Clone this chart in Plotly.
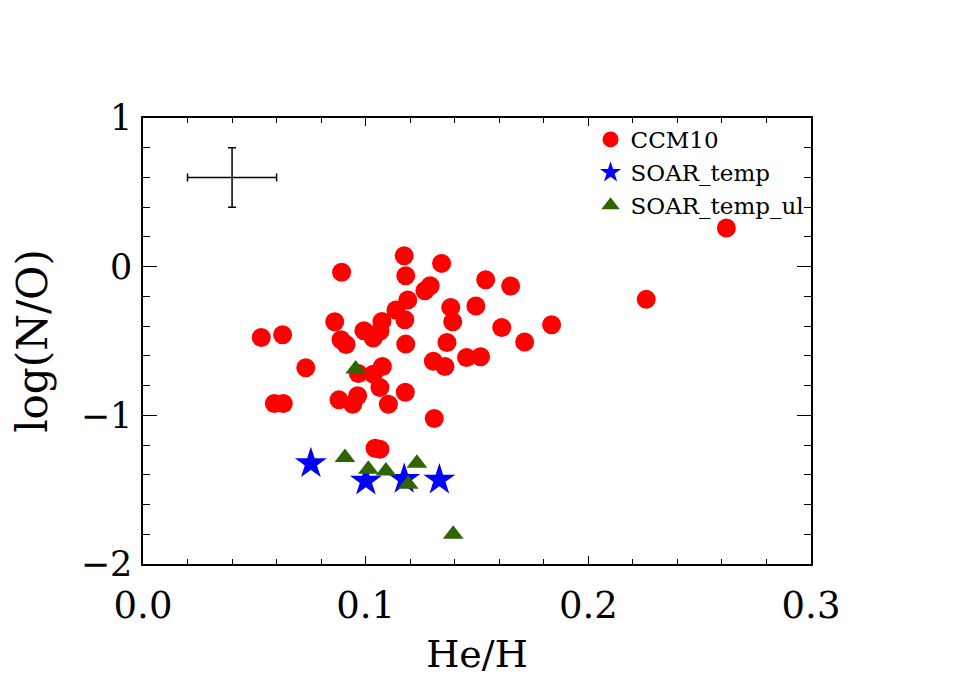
import plotly.graph_objects as go

# CCM10 sample
ccm_x = [0.0892, 0.1173, 0.1180, 0.1341, 0.1290, 0.1266, 0.1189, 0.1136, 0.1176, 0.1073,
         0.0861, 0.0992, 0.1064, 0.1034, 0.0889, 0.0912, 0.1180, 0.0531, 0.0627, 0.0731,
         0.0967, 0.1075, 0.1034, 0.1064, 0.1178, 0.1304, 0.0964, 0.1539, 0.1651, 0.1382,
         0.1495, 0.1391, 0.1611, 0.1835, 0.1365, 0.1714, 0.1356, 0.1453, 0.1516, 0.0590,
         0.0630, 0.0880, 0.0942, 0.1102, 0.1308, 0.1042, 0.1064, 0.2620, 0.2260]
ccm_y = [-0.038, 0.074, -0.061, 0.022, -0.128, -0.162, -0.224, -0.292, -0.357, -0.368,
         -0.370, -0.431, -0.435, -0.480, -0.492, -0.523, -0.521, -0.476, -0.458, -0.680,
         -0.718, -0.671, -0.723, -0.813, -0.845, -0.636, -0.868, -0.088, -0.130, -0.274,
         -0.265, -0.370, -0.409, -0.391, -0.510, -0.507, -0.672, -0.611, -0.606, -0.920,
         -0.920, -0.896, -0.925, -0.925, -1.021, -1.221, -1.228, 0.260, -0.220]

# SOAR_temp
soar_x = [0.0754, 0.1001, 0.1173, 0.1331]
soar_y = [-1.324, -1.441, -1.430, -1.434]

# SOAR_temp_ul (upper limits)
ul_x = [0.0955, 0.0907, 0.1012, 0.1091, 0.1230, 0.1191, 0.1393]
ul_y = [-0.689, -1.284, -1.362, -1.374, -1.322, -1.464, -1.800]

# typical error bar
err_x, err_y = [0.04], [0.6]
err_dx, err_dy = [0.02], [0.2]

x_ticks = [0.0, 0.1, 0.2, 0.3]
x_labels = ["0.0", "0.1", "0.2", "0.3"]
y_ticks = [-2, -1, 0, 1]
y_labels = ["\u22122", "\u22121", "0", "1"]

FONT = "DejaVu Serif"

fig = go.Figure()
fig.add_trace(go.Scatter(
    x=err_x, y=err_y, mode="markers", showlegend=False, hoverinfo="skip",
    marker=dict(size=1, color="rgba(0,0,0,0)"),
    error_x=dict(type="data", array=err_dx, color="black", thickness=1.5, width=4),
    error_y=dict(type="data", array=err_dy, color="black", thickness=1.5, width=4),
))
fig.add_trace(go.Scatter(
    x=ccm_x, y=ccm_y, mode="markers", name="CCM10", legendgroup="a",
    marker=dict(symbol="circle", size=19, color="#ff0000", line=dict(width=0)),
))
fig.add_trace(go.Scatter(
    x=soar_x, y=soar_y, mode="markers", name="SOAR_temp", legendgroup="b",
    marker=dict(symbol="star", size=24, color="#0000ff", line=dict(width=0)),
))
fig.add_trace(go.Scatter(
    x=ul_x, y=ul_y, mode="markers", name="SOAR_temp_ul", legendgroup="c",
    marker=dict(symbol="triangle-up", size=18, color="#2f6400", line=dict(width=0)),
))

axis_common = dict(
    showline=True, linecolor="black", linewidth=1.5, mirror="ticks",
    ticks="inside", tickcolor="black", tickwidth=1.2,
    showgrid=False, zeroline=False,
)
fig.update_xaxes(
    range=[0, 0.3], tickmode="array", tickvals=x_ticks, ticktext=x_labels,
    ticklen=8, tickfont=dict(family=FONT, size=37, color="black"), ticklabelstandoff=8,
    minor=dict(dtick=0.02, tick0=0, ticks="inside", ticklen=5, tickcolor="black", tickwidth=1.2),
    title=dict(text="He/H", font=dict(family=FONT, size=38, color="black"), standoff=14),
    **axis_common,
)
fig.update_yaxes(
    range=[-2, 1], tickmode="array", tickvals=y_ticks, ticktext=y_labels,
    ticklen=14, tickfont=dict(family=FONT, size=35, color="black"), ticklabelstandoff=2,
    minor=dict(dtick=0.2, tick0=0, ticks="inside", ticklen=7, tickcolor="black", tickwidth=1.2),
    title=dict(text="log(N/O)", font=dict(family=FONT, size=42, color="black"), standoff=27),
    **axis_common,
)
fig.update_layout(
    width=947, height=674,
    margin=dict(l=135, r=144, t=110, b=118, autoexpand=False),
    paper_bgcolor="white", plot_bgcolor="white",
    font=dict(family=FONT, color="black"),
    legend=dict(
        x=0.67, y=1.0, xanchor="left", yanchor="top",
        bgcolor="rgba(0,0,0,0)", borderwidth=0,
        font=dict(family=FONT, size=23, color="black"),
        tracegroupgap=0, itemwidth=30,
    ),
)
fig.write_html("out.html")
